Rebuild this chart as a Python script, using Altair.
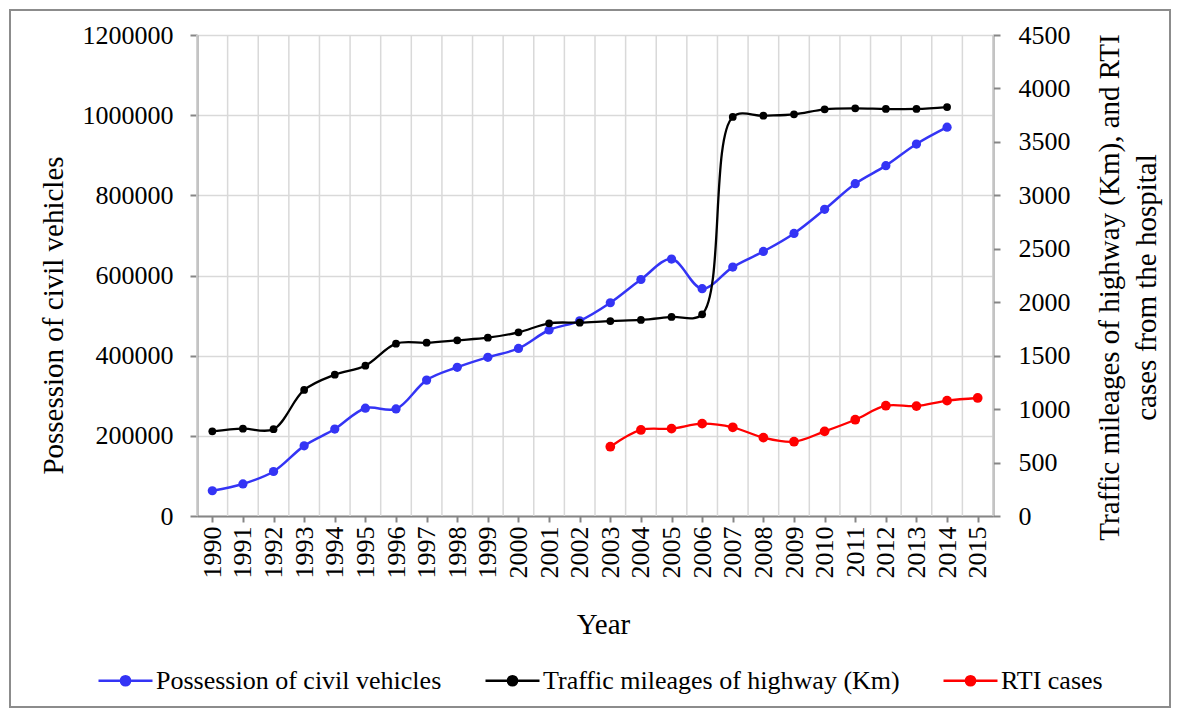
import altair as alt
import pandas as pd

# ---- data ----
years_all = list(range(1990, 2016))
veh_years = list(range(1990, 2015))
vehicles = [63000, 80000, 111000, 175000, 217000, 269000, 267000, 339000, 371000,
            396000, 418000, 464000, 487000, 532000, 590000, 641000, 567000, 621000,
            660000, 705000, 765000, 829000, 874000, 928000, 970000]
mile_years = list(range(1990, 2015))
mileage = [792, 817, 812, 1179, 1322, 1406, 1612, 1621, 1644, 1668, 1718, 1803, 1809,
           1824, 1834, 1862, 1887, 3733, 3745, 3758, 3805, 3814, 3808, 3808, 3826]
rti_years = list(range(2003, 2016))
rti = [648, 805, 817, 864, 830, 733, 695, 792, 901, 1032, 1028, 1079, 1104]

series_names = ["Possession of civil vehicles", "Traffic mileages of highway (Km)", "RTI cases"]
series_colors = ["#3434F5", "#000000", "#FF0000"]
grid_years = [y - 0.5 for y in years_all] + [years_all[-1] + 0.5]

FONT = "'Liberation Serif', 'Times New Roman', serif"
AXIS_GRAY = "#868686"
GRID_GRAY = "#D9D9D9"

df_veh = pd.DataFrame({"Year": veh_years, "Value": vehicles, "Series": series_names[0]})
df_mile = pd.DataFrame({"Year": mile_years, "Value": mileage, "Series": series_names[1]})
df_rti = pd.DataFrame({"Year": rti_years, "Value": rti, "Series": series_names[2]})
df_right = pd.concat([df_mile, df_rti], ignore_index=True)
df_grid = pd.DataFrame({"Year": grid_years})

x_scale = alt.Scale(domain=[1989.5, 2015.5], nice=False, zero=False)

x_axis = alt.Axis(orient="bottom", values=years_all, format="d", labelAngle=270, grid=False,
                  title="Year", titleFontSize=29, titleFontWeight="normal",
                  titleX=406, titleY=117, titleAlign="center", titleBaseline="alphabetic",
                  labelFont=FONT, titleFont=FONT,
                  labelFontSize=26, labelPadding=4, tickSize=6, tickWidth=2,
                  tickColor=AXIS_GRAY, domainColor=AXIS_GRAY, domainWidth=2,
                  labelColor="#000000", titleColor="#000000", labelOverlap=False)
x_main = alt.X("Year:Q", scale=x_scale, axis=x_axis)

legend_symbol = ("M-1,0L1,0M-0.17,0A0.17,0.17,0,1,1,0.17,0"
                 "A0.17,0.17,0,1,1,-0.17,0Z")

color = alt.Color(
    "Series:N",
    scale=alt.Scale(domain=series_names, range=series_colors),
    legend=alt.Legend(
        orient="none", legendX=-100, legendY=617, direction="horizontal", title=None,
        symbolType=legend_symbol, symbolSize=2916, symbolStrokeWidth=2.5,
        labelFontSize=26, labelFont=FONT, labelColor="#000000", labelLimit=600,
        labelOffset=2, columnPadding=38, padding=0,
    ),
)

frame = alt.Chart(df_grid).mark_rect(fill="transparent", stroke="#8C8C8C", strokeWidth=2).encode(
    x=alt.value(-187), x2=alt.value(973), y=alt.value(-25), y2=alt.value(672)
)

vgrid = alt.Chart(df_grid).mark_rule(color=GRID_GRAY, strokeWidth=1.5).encode(
    x=x_main
)

y_left = alt.Y(
    "Value:Q",
    scale=alt.Scale(domain=[0, 1200000], nice=False),
    axis=alt.Axis(orient="left", values=list(range(0, 1200001, 200000)), format="d",
                  grid=True, gridColor=GRID_GRAY, gridWidth=1.5,
                  labelFont=FONT, titleFont=FONT,
                  labelFontSize=26, labelPadding=17, tickSize=7, tickWidth=2,
                  tickColor=AXIS_GRAY, domainColor=AXIS_GRAY, domainWidth=2,
                  title="Possession of civil vehicles", titleFontSize=29,
                  titleFontWeight="normal", titleAngle=270, titleX=-135, titleY=280,
                  titleAlign="center", titleBaseline="alphabetic",
                  labelColor="#000000", titleColor="#000000"),
)
y_right = alt.Y(
    "Value:Q",
    scale=alt.Scale(domain=[0, 4500], nice=False),
    axis=alt.Axis(orient="right", values=list(range(0, 4501, 500)), format="d",
                  grid=False, labelFont=FONT, titleFont=FONT,
                  labelFontSize=26, labelPadding=18,
                  tickSize=7, tickWidth=2,
                  tickColor=AXIS_GRAY, domainColor=AXIS_GRAY, domainWidth=2,
                  title=["Traffic mileages of highway (Km), and RTI", "cases from the hospital"],
                  titleFontSize=29, titleFontWeight="normal", titleAngle=270,
                  titleX=125, titleY=252, titleAlign="center", titleBaseline="alphabetic",
                  titleLineHeight=37, labelColor="#000000", titleColor="#000000"),
)

line_l = alt.Chart(df_veh).mark_line(interpolate="catmull-rom", strokeWidth=2.5).encode(
    x=x_main, y=y_left, color=color)
pts_l = alt.Chart(df_veh).mark_circle(opacity=1, size=85).encode(
    x=x_main, y=y_left, color=color)
line_r = alt.Chart(df_right).mark_line(interpolate="catmull-rom", strokeWidth=2.3).encode(
    x=x_main, y=y_right, color=color)
pts_mile = alt.Chart(df_mile).mark_circle(opacity=1, size=60).encode(
    x=x_main, y=y_right, color=color)
pts_rti = alt.Chart(df_rti).mark_circle(opacity=1, size=95).encode(
    x=x_main, y=y_right, color=color)

left = alt.layer(frame, vgrid, line_l, pts_l)
right = alt.layer(line_r, pts_mile, pts_rti)

chart = alt.layer(left, right).resolve_scale(y="independent").properties(
    width=796, height=481,
    padding={"left": 189, "top": 27, "right": 178, "bottom": 193},
    autosize=alt.AutoSizeParams(type="none"),
).configure(font=FONT).configure_view(stroke=None).configure_axis(
    labelFont=FONT, titleFont=FONT
).configure_legend(labelFont=FONT)

chart.save("out.html", embed_options={"renderer": "svg", "actions": False})
